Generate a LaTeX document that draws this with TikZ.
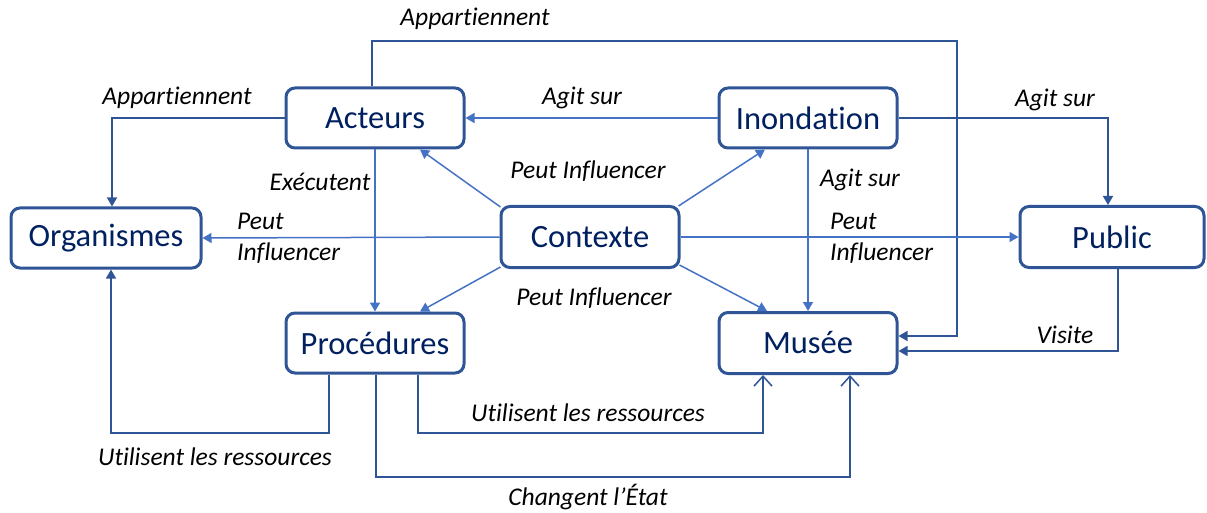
\documentclass[tikz,border=0pt]{standalone}
\usepackage{fontspec}
\setmainfont{Carlito}[Ligatures={NoCommon}]
\usetikzlibrary{arrows.meta}
\definecolor{dk}{RGB}{47,85,151}
\definecolor{lt}{RGB}{68,114,196}
\definecolor{txt}{RGB}{0,32,96}
\begin{document}
\begin{tikzpicture}[x=1pt,y=-1pt,
  box/.style={draw=dk, line width=3pt, rounded corners=9pt, fill=white, minimum width=178pt, minimum height=60pt, text=txt, font=\fontsize{32.5}{36}\selectfont, inner sep=0pt},
  lbl/.style={font=\fontsize{25.5}{31}\selectfont\itshape, text=black, inner sep=0pt},
  tip/.style={-{Triangle[length=9pt,width=10pt]}},
  dl/.style={draw=dk, line width=1.5pt, tip},
  ll/.style={draw=lt, line width=1.5pt, tip},
  ol/.style={draw=dk, line width=1.5pt, -{Straight Barb[length=10pt,width=18pt,line width=1.5pt]}}
]
\useasboundingbox (0,0) rectangle (1207,513);
% nodes
\node[box] (act) at (375,118) {Acteurs};
\node[box] (ino) at (808,118) {Inondation};
\node[box, minimum width=190pt] (org) at (106,238) {Organismes};
\node[box, minimum height=61pt] (ctx) at (590,237) {Contexte};
\node[box, minimum width=184pt, minimum height=61pt] (pub) at (1112,237) {Public};
\node[box] (pro) at (375,343) {Procédures};
\node[box, minimum height=61pt] (mus) at (808,343) {Musée};
% connectors
\draw[dl] ([xshift=-3pt]act.north) |- (957,41) |- ([yshift=7pt]mus.east);
\draw[dl] (act.west) -| ([xshift=6pt]org.north);
\draw[ll] (ino.west) -- (act.east);
\draw[dl] (ino.east) -| ([xshift=-4pt]pub.north);
\draw[ll] (ino.south) -- (mus.north);
\draw[ll] (act.south) -- (pro.north);
\draw[ll] ([shift={(1pt,-2pt)}]ctx.north west) -- ([xshift=45pt]act.south);
\draw[ll] ([shift={(-2pt,-1pt)}]ctx.north east) -- ([xshift=-43pt]ino.south);
\draw[ll] (ctx.west) -- (org.east);
\draw[ll] (ctx.east) -- (pub.west);
\draw[ll] ([shift={(1pt,2pt)}]ctx.south west) -- ([xshift=45pt]pro.north);
\draw[ll] ([shift={(-1pt,4pt)}]ctx.south east) -- ([xshift=-41pt]mus.north);
\draw[dl] ([xshift=-46pt]pro.south) |- (111,433) -- ([xshift=5pt]org.south);
\draw[ol] ([xshift=43pt]pro.south) |- (763,433) -- ([xshift=-45pt]mus.south);
\draw[ol] ([xshift=1pt]pro.south) |- (850,477) -- ([xshift=42pt]mus.south);
\draw[dl] ([xshift=6pt]pub.south) |- ([yshift=-8pt]mus.east);
% labels
\node[lbl] (l1) at (475,19) {Appartiennent};
\node[lbl] (l2) at (177,98) {Appartiennent};
\node[lbl] (l3) at (582,98) {Agit sur};
\node[lbl] (l4) at (1055,100) {Agit sur};
\node[lbl] (l5) at (860,180) {Agit sur};
\node[lbl] (l6) at (320,182) {Exécutent};
\node[lbl] (l7) at (588,171) {Peut Influencer};
\node[lbl] (l8) at (594,298) {Peut Influencer};
\node[lbl, anchor=west, align=left] (l9) at (237,238) {Peut\\Influencer};
\node[lbl, anchor=west, align=left] (l10) at (830,238) {Peut\\Influencer};
\node[lbl] (l11) at (1065,335) {Visite};
\node[lbl] (l12) at (588,413) {Utilisent les ressources};
\node[lbl] (l13) at (215,457) {Utilisent les ressources};
\node[lbl] (l14) at (588,497) {Changent l’État};
\end{tikzpicture}
\end{document}
